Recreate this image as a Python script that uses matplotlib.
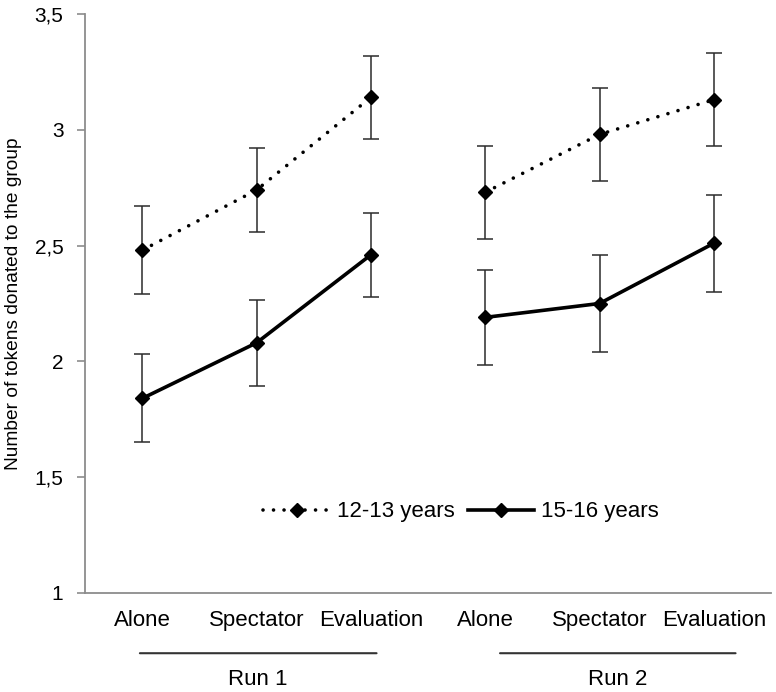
import numpy as np
import matplotlib
matplotlib.use("Agg")
import matplotlib.pyplot as plt

plt.rcParams['font.family'] = ['Liberation Sans', 'DejaVu Sans']

# data
conditions = ['Alone', 'Spectator', 'Evaluation', 'Alone', 'Spectator', 'Evaluation']
runs = ['Run 1', 'Run 2']
young_mean = [2.48, 2.74, 3.14, 2.73, 2.98, 3.13]
young_err = [0.19, 0.18, 0.18, 0.20, 0.20, 0.20]
old_mean = [1.84, 2.08, 2.46, 2.19, 2.25, 2.51]
old_err = [0.19, 0.185, 0.18, 0.205, 0.21, 0.21]
y_ticks = [1, 1.5, 2, 2.5, 3, 3.5]

fig = plt.figure(figsize=(7.76, 6.92), dpi=100)
ax = fig.add_axes([85 / 776, 1 - 593 / 692, 686 / 776, 579 / 692])

ebar = dict(ecolor='#2b2b2b', elinewidth=1.1, capsize=6, capthick=1.1)

for g in range(2):
    x = np.arange(3) + 3 * g
    sl = slice(3 * g, 3 * g + 3)
    # 12-13 years, dotted
    ax.errorbar(x, young_mean[sl], yerr=young_err[sl], fmt='none', **ebar, zorder=2)
    ax.plot(x, young_mean[sl], color='black', lw=2.6, linestyle=(0, (0.01, 2.9)),
            dash_capstyle='round', marker='D', ms=7, zorder=3,
            label='12-13 years' if g == 0 else None)
    # 15-16 years, solid
    ax.errorbar(x, old_mean[sl], yerr=old_err[sl], fmt='none', **ebar, zorder=2)
    ax.plot(x, old_mean[sl], color='black', lw=2.6, marker='D', ms=7, zorder=3,
            label='15-16 years' if g == 0 else None)

ax.set_xlim(-0.5, 5.5)
ax.set_ylim(1, 3.5)
ax.set_yticks(y_ticks)
ax.set_yticklabels([('%g' % t).replace('.', ',') for t in y_ticks])
ax.set_xticks(range(6))
ax.set_xticklabels(conditions)

for s in ['top', 'right']:
    ax.spines[s].set_visible(False)
for s in ['left', 'bottom']:
    ax.spines[s].set_color('#8c8c8c')
    ax.spines[s].set_linewidth(1.3)
ax.tick_params(axis='y', direction='out', length=5.5, width=1.2, color='#8c8c8c',
               labelsize=15, pad=10)
ax.tick_params(axis='x', length=0, labelsize=16, pad=12)

fig.text(14 / 776, 1 - 304 / 692, 'Number of tokens donated to the group',
         rotation=90, ha='center', va='center', fontsize=13.8)

# run brackets under the category labels
run_lines = [(-0.02, 2.05), (3.13, 5.19)]
for name, (x0, x1) in zip(runs, run_lines):
    ax.annotate('', xy=(x0, -0.104), xytext=(x1, -0.104),
                xycoords=('data', 'axes fraction'),
                arrowprops=dict(arrowstyle='-', color='#333333', lw=1.5,
                                shrinkA=0, shrinkB=0), annotation_clip=False)
    ax.text((x0 + x1) / 2, -0.15, name, transform=ax.get_xaxis_transform(),
            ha='center', va='center', fontsize=16)

leg = ax.legend(loc='center', bbox_to_anchor=(0.548, 0.14), ncol=2, frameon=False,
                fontsize=16, handlelength=3.0, handletextpad=0.3, columnspacing=0.6)

fig.savefig('out.png', dpi=100)
